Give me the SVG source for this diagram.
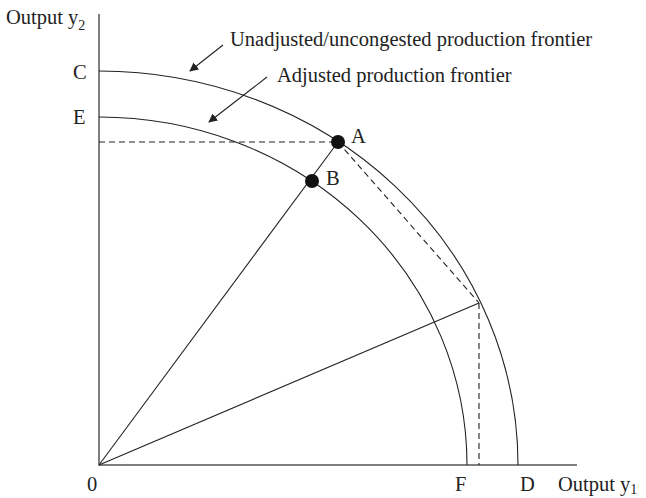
<svg xmlns="http://www.w3.org/2000/svg" width="646" height="498" viewBox="0 0 646 498">
<style>
text{font-family:"Liberation Serif","Times New Roman",serif;font-size:20.5px;fill:#222}
.sub{font-size:14px}
.ax{stroke:#555;stroke-width:1.5;fill:none}
.ln{stroke:#222;stroke-width:1.1;fill:none}
.ds{stroke:#222;stroke-width:1.1;fill:none;stroke-dasharray:6,4}
</style>
<defs>
<marker id="ah" viewBox="0 0 10 10" refX="9" refY="5" markerWidth="9" markerHeight="9" markerUnits="userSpaceOnUse" orient="auto"><path d="M0,0 L10,5 L0,10 z" fill="#222"/></marker>
</defs>
<g id="axes">
<path class="ax" d="M99,14 V465 H577"/>
</g>
<g id="frontiers">
<path id="outer" class="ln" d="M99,71 A419,394 0 0 1 518,465"/>
<path id="inner" class="ln" d="M99,117 A368,348 0 0 1 467,465"/>
</g>
<g id="connectors">
<line class="ln" x1="99" y1="465" x2="338" y2="142"/>
<line class="ln" x1="99" y1="465" x2="479" y2="303"/>
<line class="ds" x1="99" y1="142" x2="338" y2="142"/>
<line class="ds" x1="338" y1="142" x2="479" y2="303"/>
<line class="ds" x1="479" y1="303" x2="479" y2="465"/>
<line class="ln" x1="223" y1="45" x2="190" y2="71" marker-end="url(#ah)"/>
<line class="ln" x1="267" y1="77" x2="209" y2="122" marker-end="url(#ah)"/>
</g>
<g id="A"><circle cx="338" cy="142" r="7" fill="#111"/><text x="351" y="143">A</text></g>
<g id="B"><circle cx="312" cy="181" r="7" fill="#111"/><text x="326" y="185">B</text></g>
<g id="labels">
<text x="6" y="24">Output y<tspan class="sub" dy="6">2</tspan></text>
<text x="73" y="79">C</text>
<text x="73" y="124">E</text>
<text x="87" y="491">0</text>
<text x="455" y="491">F</text>
<text x="520" y="491">D</text>
<text x="558" y="491">Output y<tspan class="sub" dy="3">1</tspan></text>
<text x="230" y="46">Unadjusted/uncongested production frontier</text>
<text x="277" y="82">Adjusted production frontier</text>
</g>
</svg>
